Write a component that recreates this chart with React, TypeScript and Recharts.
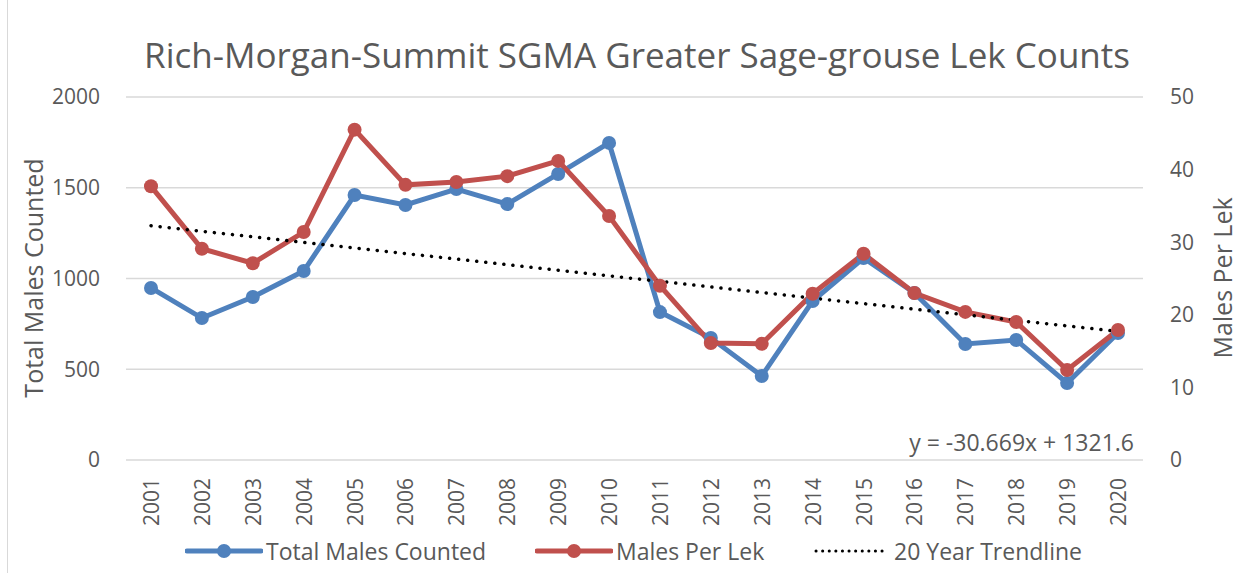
import { LineChart, Line, XAxis, YAxis, CartesianGrid } from "recharts";

const years = [
  "2001", "2002", "2003", "2004", "2005", "2006", "2007", "2008", "2009", "2010",
  "2011", "2012", "2013", "2014", "2015", "2016", "2017", "2018", "2019", "2020",
];

const totalMales = [
  948, 782, 898, 1041, 1460, 1405, 1493, 1410, 1576, 1747,
  815, 672, 463, 876, 1113, 920, 639, 661, 424, 700,
];

const malesPerLek = [
  37.7, 29.1, 27.1, 31.4, 45.5, 37.9, 38.3, 39.1, 41.2, 33.6,
  24.0, 16.1, 16.0, 22.9, 28.4, 23.0, 20.4, 19.0, 12.4, 17.9,
];

// trendline end points, y = -30.669x + 1321.6
const trendStart = 1290.9;
const trendEnd = 708.2;

const leftTicks = [0, 500, 1000, 1500, 2000];
const rightTicks = [0, 10, 20, 30, 40, 50];

const BLUE = "#4F81BD";
const RED = "#C0504D";
const GREY = "#595959";
const FONT = "'Open Sans', sans-serif";

const chartData = years.map((year, i) => ({
  year,
  total: totalMales[i],
  perLek: malesPerLek[i],
  trend: i === 0 ? trendStart : i === years.length - 1 ? trendEnd : null,
}));

const YearTick = (props: any) => {
  const { x, y, payload } = props;
  return (
    <text
      x={x}
      y={y}
      transform={`rotate(-90, ${x}, ${y})`}
      textAnchor="end"
      dominantBaseline="central"
      fill={GREY}
      fontSize={21}
      fontFamily={FONT}
    >
      {payload.value}
    </text>
  );
};

const LegendItem = ({ color, label, dotted, left }: { color: string; label: string; dotted?: boolean; left: number }) => (
  <div style={{ position: "absolute", left, top: 0, display: "flex", alignItems: "center" }}>
    <svg width={78} height={20}>
      {dotted ? (
        <line x1={3} y1={10} x2={75} y2={10} stroke="#000" strokeWidth={3} strokeDasharray="0.1 6.5" strokeLinecap="round" />
      ) : (
        <>
          <line x1={2} y1={10} x2={76} y2={10} stroke={color} strokeWidth={5} strokeLinecap="round" />
          <circle cx={39} cy={10} r={7} fill={color} />
        </>
      )}
    </svg>
    <span style={{ marginLeft: 3 }}>{label}</span>
  </div>
);

const App = () => {
  return (
    <div
      style={{
        position: "absolute",
        left: 0,
        top: 0,
        width: 1252,
        height: 573,
        background: "#fff",
        fontFamily: FONT,
        color: GREY,
        overflow: "hidden",
      }}
    >
      <div style={{ position: "absolute", left: 7, top: 0, width: 1, height: 573, background: "#D9D9D9" }} />
      <div
        style={{
          position: "absolute",
          left: 0,
          top: 31,
          width: 1274,
          textAlign: "center",
          fontSize: 35,
          whiteSpace: "nowrap",
        }}
      >
        Rich-Morgan-Summit SGMA Greater Sage-grouse Lek Counts
      </div>

      <LineChart
        width={1252}
        height={573}
        data={chartData}
        margin={{ top: 97, right: 0, bottom: 0, left: 0 }}
      >
        <CartesianGrid yAxisId="left" vertical={false} stroke="#D9D9D9" strokeWidth={1.5} />
        <XAxis
          dataKey="year"
          axisLine={false}
          tickLine={false}
          tick={<YearTick />}
          tickSize={0}
          tickMargin={18}
          height={113}
          interval={0}
          padding={{ left: 25, right: 25 }}
        />
        <YAxis
          yAxisId="left"
          domain={[0, 2000]}
          ticks={leftTicks}
          width={126}
          axisLine={false}
          tickLine={false}
          tickSize={0}
          tickMargin={26}
          tick={{ fill: GREY, fontSize: 21, fontFamily: FONT }}
        />
        <YAxis
          yAxisId="right"
          orientation="right"
          domain={[0, 50]}
          ticks={rightTicks}
          width={109}
          axisLine={false}
          tickLine={false}
          tickSize={0}
          tickMargin={27}
          tick={{ fill: GREY, fontSize: 21, fontFamily: FONT, textAnchor: "start" }}
        />
        <Line
          yAxisId="left"
          dataKey="total"
          stroke={BLUE}
          strokeWidth={5}
          dot={{ r: 7, fill: BLUE, stroke: BLUE, strokeWidth: 0 }}
          isAnimationActive={false}
        />
        <Line
          yAxisId="right"
          dataKey="perLek"
          stroke={RED}
          strokeWidth={5}
          dot={{ r: 7, fill: RED, stroke: RED, strokeWidth: 0 }}
          isAnimationActive={false}
        />
        <Line
          yAxisId="left"
          dataKey="trend"
          stroke="#000"
          strokeWidth={3.5}
          strokeDasharray="0.1 9"
          strokeLinecap="round"
          dot={false}
          connectNulls
          isAnimationActive={false}
        />
      </LineChart>

      <div
        style={{
          position: "absolute",
          left: 33,
          top: 278,
          transform: "translate(-50%, -50%) rotate(-90deg)",
          fontSize: 25,
          whiteSpace: "nowrap",
        }}
      >
        Total Males Counted
      </div>
      <div
        style={{
          position: "absolute",
          left: 1222,
          top: 278,
          transform: "translate(-50%, -50%) rotate(-90deg)",
          fontSize: 25,
          whiteSpace: "nowrap",
        }}
      >
        Males Per Lek
      </div>
      <div
        style={{
          position: "absolute",
          right: 1252 - 1134,
          top: 426,
          fontSize: 23,
          whiteSpace: "nowrap",
        }}
      >
        y = -30.669x + 1321.6
      </div>

      <div
        style={{
          position: "absolute",
          left: 0,
          top: 535,
          width: 1252,
          height: 32,
          fontSize: 23,
          whiteSpace: "nowrap",
        }}
      >
        <LegendItem left={185} color={BLUE} label="Total Males Counted" />
        <LegendItem left={535} color={RED} label="Males Per Lek" />
        <LegendItem left={813} color="#000" label="20 Year Trendline" dotted />
      </div>
    </div>
  );
};

export default App;
